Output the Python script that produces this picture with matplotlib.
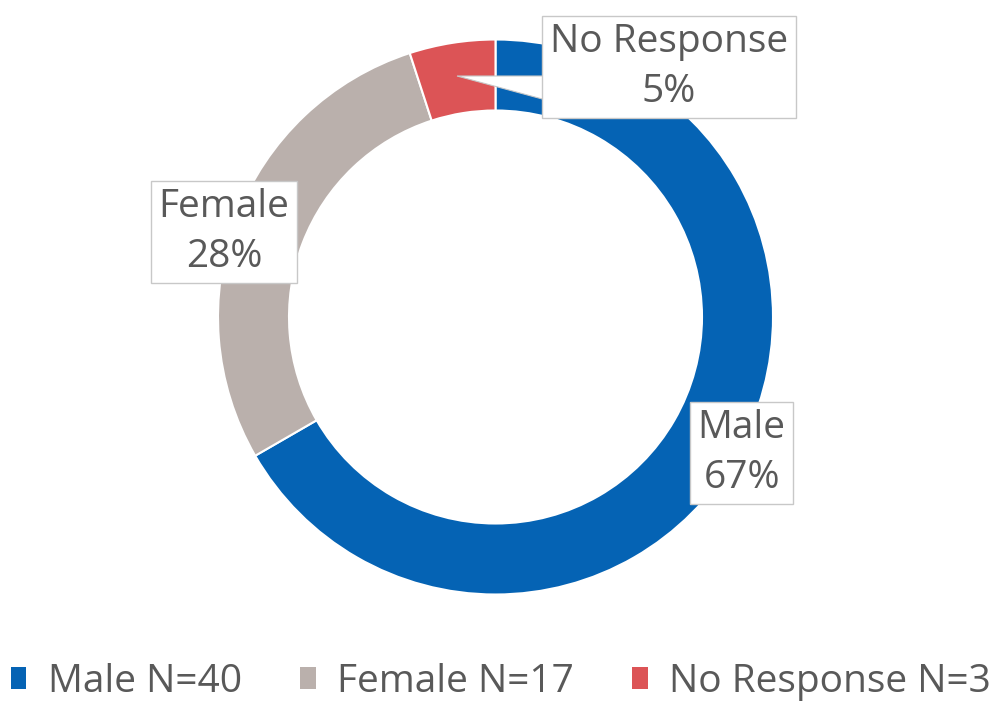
import matplotlib
matplotlib.use("Agg")
import matplotlib.pyplot as plt
from matplotlib.patches import Patch, Polygon

# data
groups = ["Male", "Female", "No Response"]
counts = [40, 17, 3]
colors = ["#0563B4", "#BAB0AC", "#DC5456"]

W, H = 996, 701
TEXT = "#595959"
plt.rcParams["font.family"] = ["Open Sans", "DejaVu Sans"]

fig = plt.figure(figsize=(W / 100, H / 100), dpi=100)
ax = fig.add_axes([0, 0, 1, 1])

# ring, drawn in pixel units (y flipped)
cx, cy, r_out, ring_w = 495.5, H - 317, 277.5, 71
ax.pie(
    counts,
    colors=colors,
    radius=r_out,
    center=(cx, cy),
    startangle=90,
    counterclock=False,
    wedgeprops=dict(width=ring_w, edgecolor="white", linewidth=1.5),
)
ax.set_xlim(0, W)
ax.set_ylim(0, H)
ax.set_aspect("auto")
ax.axis("off")

# data labels (box centres in pixels from top-left)
total = sum(counts)
label_pos = [(741.5, 453), (224, 232), (669, 67)]

# callout pointer for the small slice
ax.add_patch(Polygon([(546, H - 76), (457, H - 76), (546, H - 100)],
                     closed=True, fc="white", ec="#c8c8c8", lw=0.8, zorder=3))

for name, n, (x, y) in zip(groups, counts, label_pos):
    ax.text(x, H - y, f"{name}\n{round(100 * n / total)}%",
            ha="center", va="center", fontsize=28, color=TEXT,
            linespacing=1.38, zorder=4,
            bbox=dict(boxstyle="square,pad=0.2", fc="white", ec="#c8c8c8", lw=1))

# legend
handles = [Patch(facecolor=c, edgecolor="none") for c in colors]
labels = [f"{g} N={n}" for g, n in zip(groups, counts)]
fig.legend(handles, labels, loc="lower center", bbox_to_anchor=(0.503, -0.022),
           ncol=3, frameon=False, fontsize=28, labelcolor=TEXT,
           handlelength=0.4, handleheight=0.5, handletextpad=0.55,
           columnspacing=1.5, borderaxespad=0)

fig.savefig("out.png", dpi=100)
